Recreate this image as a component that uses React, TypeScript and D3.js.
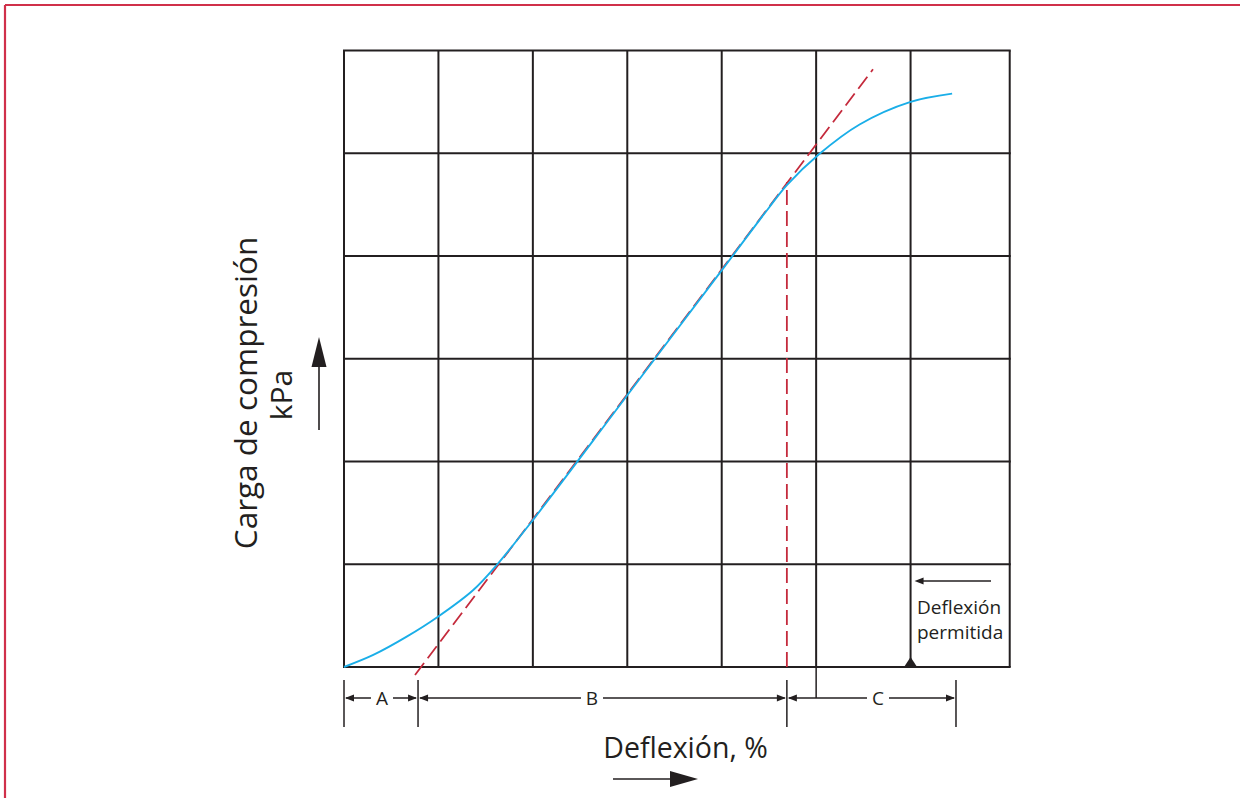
import React from "react";
import * as d3 from "d3";

// ---- data (chart units: x = deflexión grid units, y = carga grid units) ----
const gridX = [0, 1, 2, 3, 4, 5, 6, 7.05];
const gridY = [0, 1, 2, 3, 4, 5, 6];

const curveX = [0, 0.31, 0.664, 0.995, 1.369, 1.617, 2.0, 3.0, 4.0, 4.5, 4.69, 5.03, 5.46, 6.0, 6.44];
const curveY = [0, 0.117, 0.295, 0.489, 0.749, 0.992, 1.43, 2.645, 3.86, 4.47, 4.69, 4.99, 5.28, 5.5, 5.58];

const tangentX = [0.752, 5.602];
const tangentY = [-0.078, 5.817];

const yieldX = 4.69;
const yieldTop = 4.72;

const dimTicks = [0, 0.784, 4.69, 6.481];
const dimLabels = ["A", "B", "C"];
const dimLabelX = [0.402, 2.626, 5.655];
const dimGuideX = 5.0;
const allowedX = 6.0;

const xTitle = "Deflexión, %";
const yTitle = "Carga de compresión";
const yUnit = "kPa";
const noteLines = ["Deflexión", "permitida"];

const FONT = "'Open Sans', 'Noto Sans', sans-serif";
const INK = "#231f20";
const BLUE = "#1aaee8";
const RED = "#c42a3c";

export default function App() {
  React.useEffect(() => {
    document.body.style.margin = "0";
    document.body.style.overflow = "hidden";
  }, []);

  const x = d3.scaleLinear().domain([0, 7]).range([344, 1005]);
  const y = d3.scaleLinear().domain([0, 6]).range([667, 50.5]);

  const pts: [number, number][] = curveX.map((v, i) => [v, curveY[i]]);
  const line = d3
    .line<[number, number]>()
    .x((d) => x(d[0]))
    .y((d) => y(d[1]))
    .curve(d3.curveCatmullRom.alpha(0.5));

  const x0 = x(0);
  const xMax = x(gridX[gridX.length - 1]);
  const yTopPx = y(6);
  const yBot = y(0);

  const dimY = 698;
  const gap = 11;
  const ah = 9; // arrow length
  const aw = 3.6; // arrow half width

  const arrowL = (px: number, py: number) =>
    `M${px},${py} L${px + ah},${py - aw} L${px + ah},${py + aw} Z`;
  const arrowR = (px: number, py: number) =>
    `M${px},${py} L${px - ah},${py - aw} L${px - ah},${py + aw} Z`;

  return (
    <svg
      width={1240}
      height={798}
      style={{ position: "absolute", left: 0, top: 0, background: "#fff" }}
    >
      {/* frame */}
      <line x1={5} y1={5} x2={1240} y2={5} stroke="#d0304a" strokeWidth={2.2} />
      <line x1={5} y1={5} x2={5} y2={798} stroke="#d0304a" strokeWidth={2.2} />

      {/* grid */}
      <g stroke={INK} strokeWidth={2}>
        {gridX.map((g, i) => (
          <line key={"gx" + i} x1={x(g)} x2={x(g)} y1={yTopPx} y2={yBot} />
        ))}
        {gridY.map((g, i) => (
          <line key={"gy" + i} x1={x0 - 1} x2={xMax + 1} y1={y(g)} y2={y(g)} />
        ))}
      </g>

      {/* tangent (dashed red) */}
      <line
        x1={x(tangentX[0])}
        y1={y(tangentY[0])}
        x2={x(tangentX[1])}
        y2={y(tangentY[1])}
        stroke={RED}
        strokeWidth={1.8}
        strokeDasharray="15 6"
      />
      <line
        x1={x(yieldX)}
        y1={y(0)}
        x2={x(yieldX)}
        y2={y(yieldTop)}
        stroke={RED}
        strokeWidth={1.8}
        strokeDasharray="15 6"
      />

      {/* curve */}
      <path d={line(pts) || ""} fill="none" stroke={BLUE} strokeWidth={1.9} />

      {/* allowed-deflection marker */}
      <path
        d={`M${x(allowedX)},${yBot - 10} L${x(allowedX) - 6.5},${yBot} L${x(allowedX) + 6.5},${yBot} Z`}
        fill={INK}
      />
      <line x1={x(allowedX) + 12} x2={991} y1={581} y2={581} stroke={INK} strokeWidth={1.5} />
      <path d={arrowL(x(allowedX) + 4, 581)} fill={INK} />
      <text x={917} y={614} fontFamily={FONT} fontSize={19} fill={INK}>
        {noteLines[0]}
      </text>
      <text x={917} y={639} fontFamily={FONT} fontSize={19} fill={INK}>
        {noteLines[1]}
      </text>

      {/* dimension lines */}
      <g stroke={INK} strokeWidth={1.5}>
        {dimTicks.map((t, i) => (
          <line key={"dt" + i} x1={x(t)} x2={x(t)} y1={680} y2={727} />
        ))}
        <line x1={x(dimGuideX)} x2={x(dimGuideX)} y1={yBot} y2={dimY} />
        {dimLabels.map((lab, i) => {
          const a = x(dimTicks[i]);
          const b = x(dimTicks[i + 1]);
          const c = x(dimLabelX[i]);
          return (
            <g key={"dl" + i}>
              <line x1={a + 2} x2={c - gap} y1={dimY} y2={dimY} />
              <line x1={c + gap} x2={b - 2} y1={dimY} y2={dimY} />
            </g>
          );
        })}
      </g>
      {dimLabels.map((lab, i) => {
        const a = x(dimTicks[i]);
        const b = x(dimTicks[i + 1]);
        const c = x(dimLabelX[i]);
        return (
          <g key={"da" + i}>
            <path d={arrowL(a + 1, dimY)} fill={INK} />
            <path d={arrowR(b - 1, dimY)} fill={INK} />
            <text
              x={c}
              y={dimY + 7}
              textAnchor="middle"
              fontFamily={FONT}
              fontSize={19}
              fill={INK}
            >
              {lab}
            </text>
          </g>
        );
      })}

      {/* x title */}
      <text x={685.5} y={758} textAnchor="middle" fontFamily={FONT} fontSize={28.5} fill={INK}>
        {xTitle}
      </text>
      <line x1={613} x2={672} y1={779} y2={779} stroke={INK} strokeWidth={1.6} />
      <path d="M698,779 L670,771 L670,787 Z" fill={INK} />

      {/* y title */}
      <text
        transform="translate(257,393) rotate(-90)"
        textAnchor="middle"
        fontFamily={FONT}
        fontSize={31.5}
        fill={INK}
      >
        {yTitle}
      </text>
      <text
        transform="translate(292,395) rotate(-90)"
        textAnchor="middle"
        fontFamily={FONT}
        fontSize={30}
        fill={INK}
      >
        {yUnit}
      </text>
      <line x1={319} x2={319} y1={430} y2={362} stroke={INK} strokeWidth={1.6} />
      <path d="M319,337 L311.5,367 L326.5,367 Z" fill={INK} />
    </svg>
  );
}
